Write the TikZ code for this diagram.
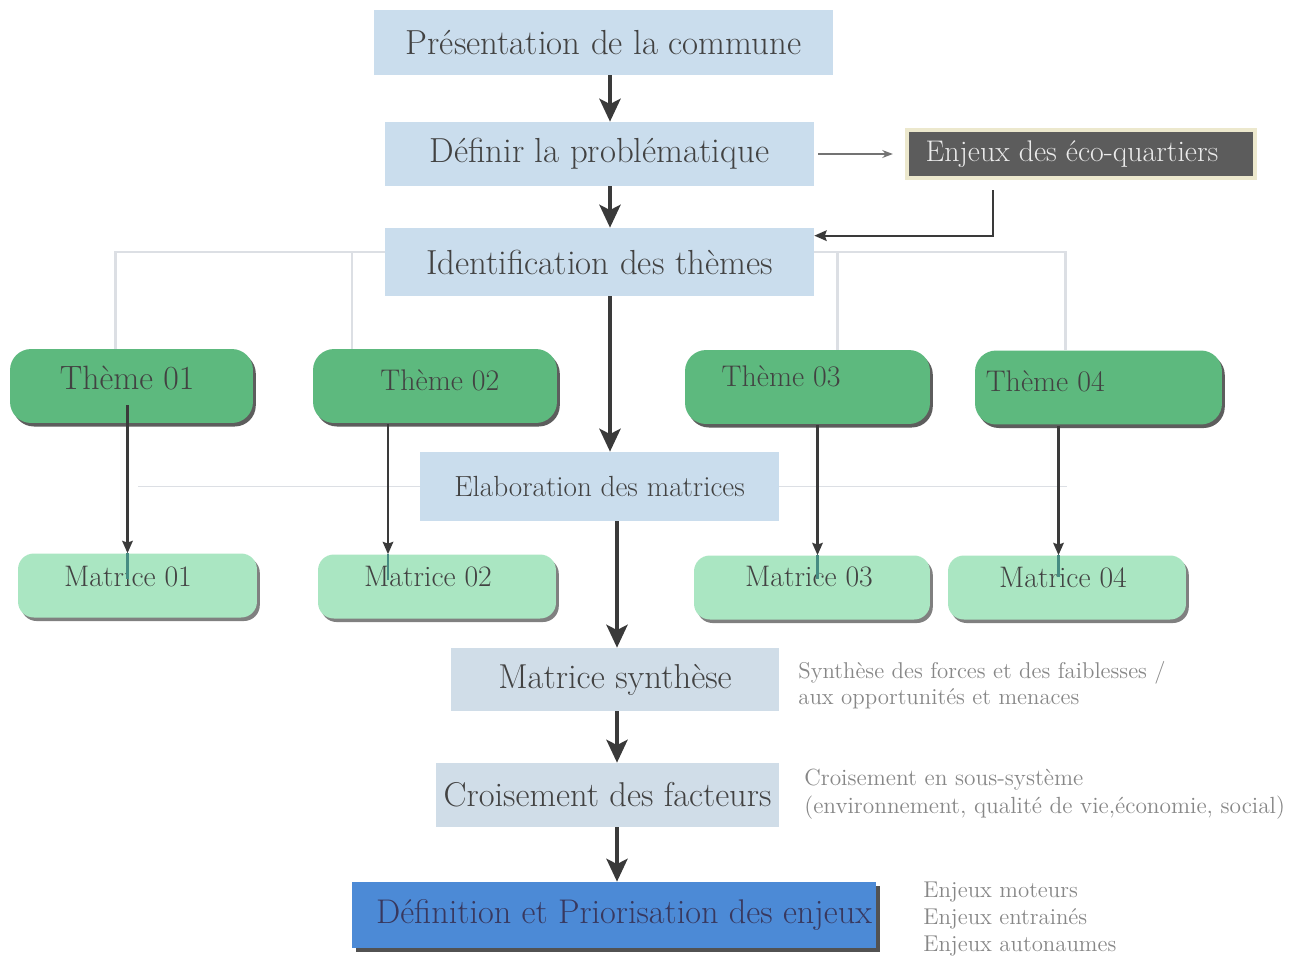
\documentclass[tikz,border=0pt]{standalone}
\usetikzlibrary{arrows.meta,shadows,backgrounds,calc}
\definecolor{boxblue}{RGB}{202,221,237}
\definecolor{boxgray}{RGB}{208,221,232}
\definecolor{themegreen}{RGB}{93,185,126}
\definecolor{matgreen}{RGB}{170,230,194}
\definecolor{deepblue}{RGB}{76,138,214}
\definecolor{txt}{RGB}{66,66,66}
\definecolor{sidetxt}{RGB}{135,135,135}
\definecolor{treegray}{RGB}{220,223,228}
\definecolor{arrdark}{RGB}{58,58,58}
\definecolor{enjgray}{RGB}{92,92,92}
\definecolor{glow}{RGB}{236,232,205}
\definecolor{linkteal}{RGB}{70,140,130}
\tikzset{
  titlebox/.style={fill=boxblue, text=txt, inner sep=0pt, font=\fontsize{19.8}{22}\selectfont},
  lowbox/.style={fill=boxgray, text=txt, inner sep=0pt, font=\fontsize{19.6}{22}\selectfont},
  themebox/.style={fill=themegreen, rounded corners=12pt, inner sep=0pt,
    minimum height=1.48cm,
    drop shadow={shadow xshift=1.6pt, shadow yshift=-2pt, fill=black!70, opacity=0.9}},
  themetext/.style={text=txt, inner sep=0pt, font=\fontsize{17}{20}\selectfont},
  matbox/.style={fill=matgreen, rounded corners=9pt, inner sep=0pt,
    minimum height=1.28cm,
    drop shadow={shadow xshift=1.6pt, shadow yshift=-2pt, fill=black!55, opacity=0.9}},
  mattext/.style={text=txt, inner sep=0pt, font=\fontsize{16.9}{20}\selectfont},
  sidenote/.style={text=sidetxt, anchor=west, align=left, inner sep=0pt},
  bigarr/.style={draw=arrdark, line width=2.3pt, -{Stealth[length=13pt, width=12pt, inset=3pt]}},
  smallarr/.style={draw=arrdark, line width=1.2pt, -{Stealth[length=7pt, width=6pt, inset=1pt]}},
  thinarr/.style={draw=black!55, line width=0.8pt, -{Stealth[length=6pt, width=4.5pt]}},
  tree/.style={draw=treegray, line width=1.5pt},
  treethin/.style={draw=treegray, line width=0.9pt},
  tealline/.style={draw=linkteal, line width=1.2pt},
}
\begin{document}
\begin{tikzpicture}[x=0.02cm, y=-0.02cm]
\useasboundingbox (0,0) rectangle (1298,957);

% main column
\node[titlebox, minimum width=9.18cm, minimum height=1.30cm] (pres) at (603.5,42.5) {Présentation de la commune};
\node[titlebox, minimum width=8.58cm, minimum height=1.28cm] (def) at (599.5,154) {Définir la problématique};
\node[fill=enjgray, draw=glow, line width=2.5pt, text=white!92!black, minimum width=6.96cm, minimum height=0.96cm, inner sep=0pt,
  font=\fontsize{17}{20}\selectfont] (enj) at (1081,154) {Enjeux des éco-quartiers\hspace*{0.36cm}};
\node[titlebox, minimum width=8.58cm, minimum height=1.36cm] (ident) at (599.5,262) {Identification des thèmes};

\node[themebox, minimum width=4.86cm, label={[themetext, font=\fontsize{19.2}{22}\selectfont, xshift=-2.5pt, yshift=4.5pt]center:Thème 01}] (t1) at (131.5,386) {};
\node[themebox, minimum width=4.88cm, label={[themetext, xshift=2.8pt, yshift=3.4pt]center:Thème 02}] (t2) at (435,386) {};
\node[themebox, minimum width=4.90cm, label={[themetext, xshift=-15pt, yshift=6.2pt]center:Thème 03}] (t3) at (807.5,387) {};
\node[themebox, minimum width=4.94cm, label={[themetext, xshift=-30.3pt, yshift=3.7pt]center:Thème 04}] (t4) at (1098.5,387.5) {};

\node[titlebox, minimum width=7.18cm, minimum height=1.38cm, font=\fontsize{16.6}{19}\selectfont] (elab) at (599.5,486.5) {Elaboration des matrices};

\node[matbox, minimum width=4.78cm, label={[mattext, xshift=-5.4pt, yshift=4.8pt]center:Matrice 01}] (m1) at (137.5,585.5) {};
\node[matbox, minimum width=4.76cm, label={[mattext, xshift=-5.1pt, yshift=5.4pt]center:Matrice 02}] (m2) at (437,586.5) {};
\node[matbox, minimum width=4.72cm, label={[mattext, xshift=-1.7pt, yshift=6pt]center:Matrice 03}] (m3) at (812,587.5) {};
\node[matbox, minimum width=4.76cm, label={[mattext, xshift=-2.3pt, yshift=5.4pt]center:Matrice 04}] (m4) at (1067,587.5) {};

\node[lowbox, minimum width=6.56cm, minimum height=1.26cm, font=\fontsize{19.7}{22}\selectfont] (synth) at (615,679.5) {Matrice synthèse};
\node[lowbox, minimum width=6.86cm, minimum height=1.28cm] (crois) at (607.5,795) {Croisement des facteurs};
\node[fill=deepblue, text=txt!85!blue, minimum width=10.48cm, minimum height=1.32cm, inner sep=0pt,
  font=\fontsize{19.5}{22}\selectfont,
  drop shadow={shadow xshift=2.2pt, shadow yshift=-2.4pt, fill=black!75, opacity=0.9}] (defp) at (614,915) {\hspace*{0.4cm}Définition et Priorisation des enjeux};

% side notes
\node[sidenote, font=\fontsize{13}{14.7}\selectfont] (n1) at (798,685) {Synthèse des forces et des faiblesses /\\aux opportunités et menaces};
\node[sidenote, font=\fontsize{13.3}{15.8}\selectfont] (n2) at (804,794) {Croisement en sous-système\\(environnement, qualité de vie,économie, social)};
\node[sidenote, font=\fontsize{13}{15.2}\selectfont] (n3) at (923,919) {Enjeux moteurs\\Enjeux entrainés\\Enjeux autonaumes};

% background tree lines
\begin{pgfonlayer}{background}
  \fill[white] (0,0) rectangle (1298,957);
  \draw[tree] ($(ident.west)+(0,-10)$) -| ($(t1.north)+(-16,0)$);
  \draw[tree] ($(ident.west)+(0,-10)$) -| ($(t2.north)+(-83,0)$);
  \draw[tree] ($(ident.east)+(0,-10)$) -| ($(t4.north)+(-33,0)$);
  \draw[tree] ($(ident.east)+(0,-10)$) -| ($(t3.north)+(30,0)$);
  \draw[treethin] (elab.west) -- (m1.center |- elab.west);
  \draw[treethin] (elab.east) -- (m4.center |- elab.east);
\end{pgfonlayer}

% spine
\coordinate (sa) at (610,0);
\coordinate (sb) at (617,0);
\draw[bigarr] (pres.south -| sa) -- (def.north -| sa);
\draw[bigarr] (def.south -| sa) -- (ident.north -| sa);
\draw[bigarr] (ident.south -| sa) -- (elab.north -| sa);
\draw[bigarr] (elab.south -| sb) -- (synth.north -| sb);
\draw[bigarr] (synth.south -| sb) -- (crois.north -| sb);
\draw[bigarr] (crois.south -| sb) -- (defp.north -| sb);

% side loop
\draw[thinarr] ($(def.east)+(4,0)$) -- ($(enj.west)+(-12,0)$);
\coordinate (e1) at ($(enj.south)+(-88,10)$);
\draw[smallarr] (e1) |- ($(ident.north east)+(0,8)$);

% theme -> matrice
\coordinate (a1) at ($(t1.center)+(-4,19)$);
\coordinate (a2) at ($(t2.center)+(-47,38)$);
\coordinate (a3) at ($(t3.center)+(10,38)$);
\coordinate (a4) at ($(t4.center)+(-40,38)$);
\draw[smallarr] (a1) -- (a1 |- m1.north);
\draw[smallarr] (a2) -- (a2 |- m2.north);
\draw[smallarr] (a3) -- (a3 |- m3.north);
\draw[smallarr] (a4) -- (a4 |- m4.north);
\draw[tealline] (a1 |- m1.north) -- ++(0,26);
\draw[tealline] (a2 |- m2.north) -- ++(0,26);
\draw[tealline] (a3 |- m3.north) -- ++(0,24);
\draw[tealline] (a4 |- m4.north) -- ++(0,22);
\end{tikzpicture}
\end{document}
